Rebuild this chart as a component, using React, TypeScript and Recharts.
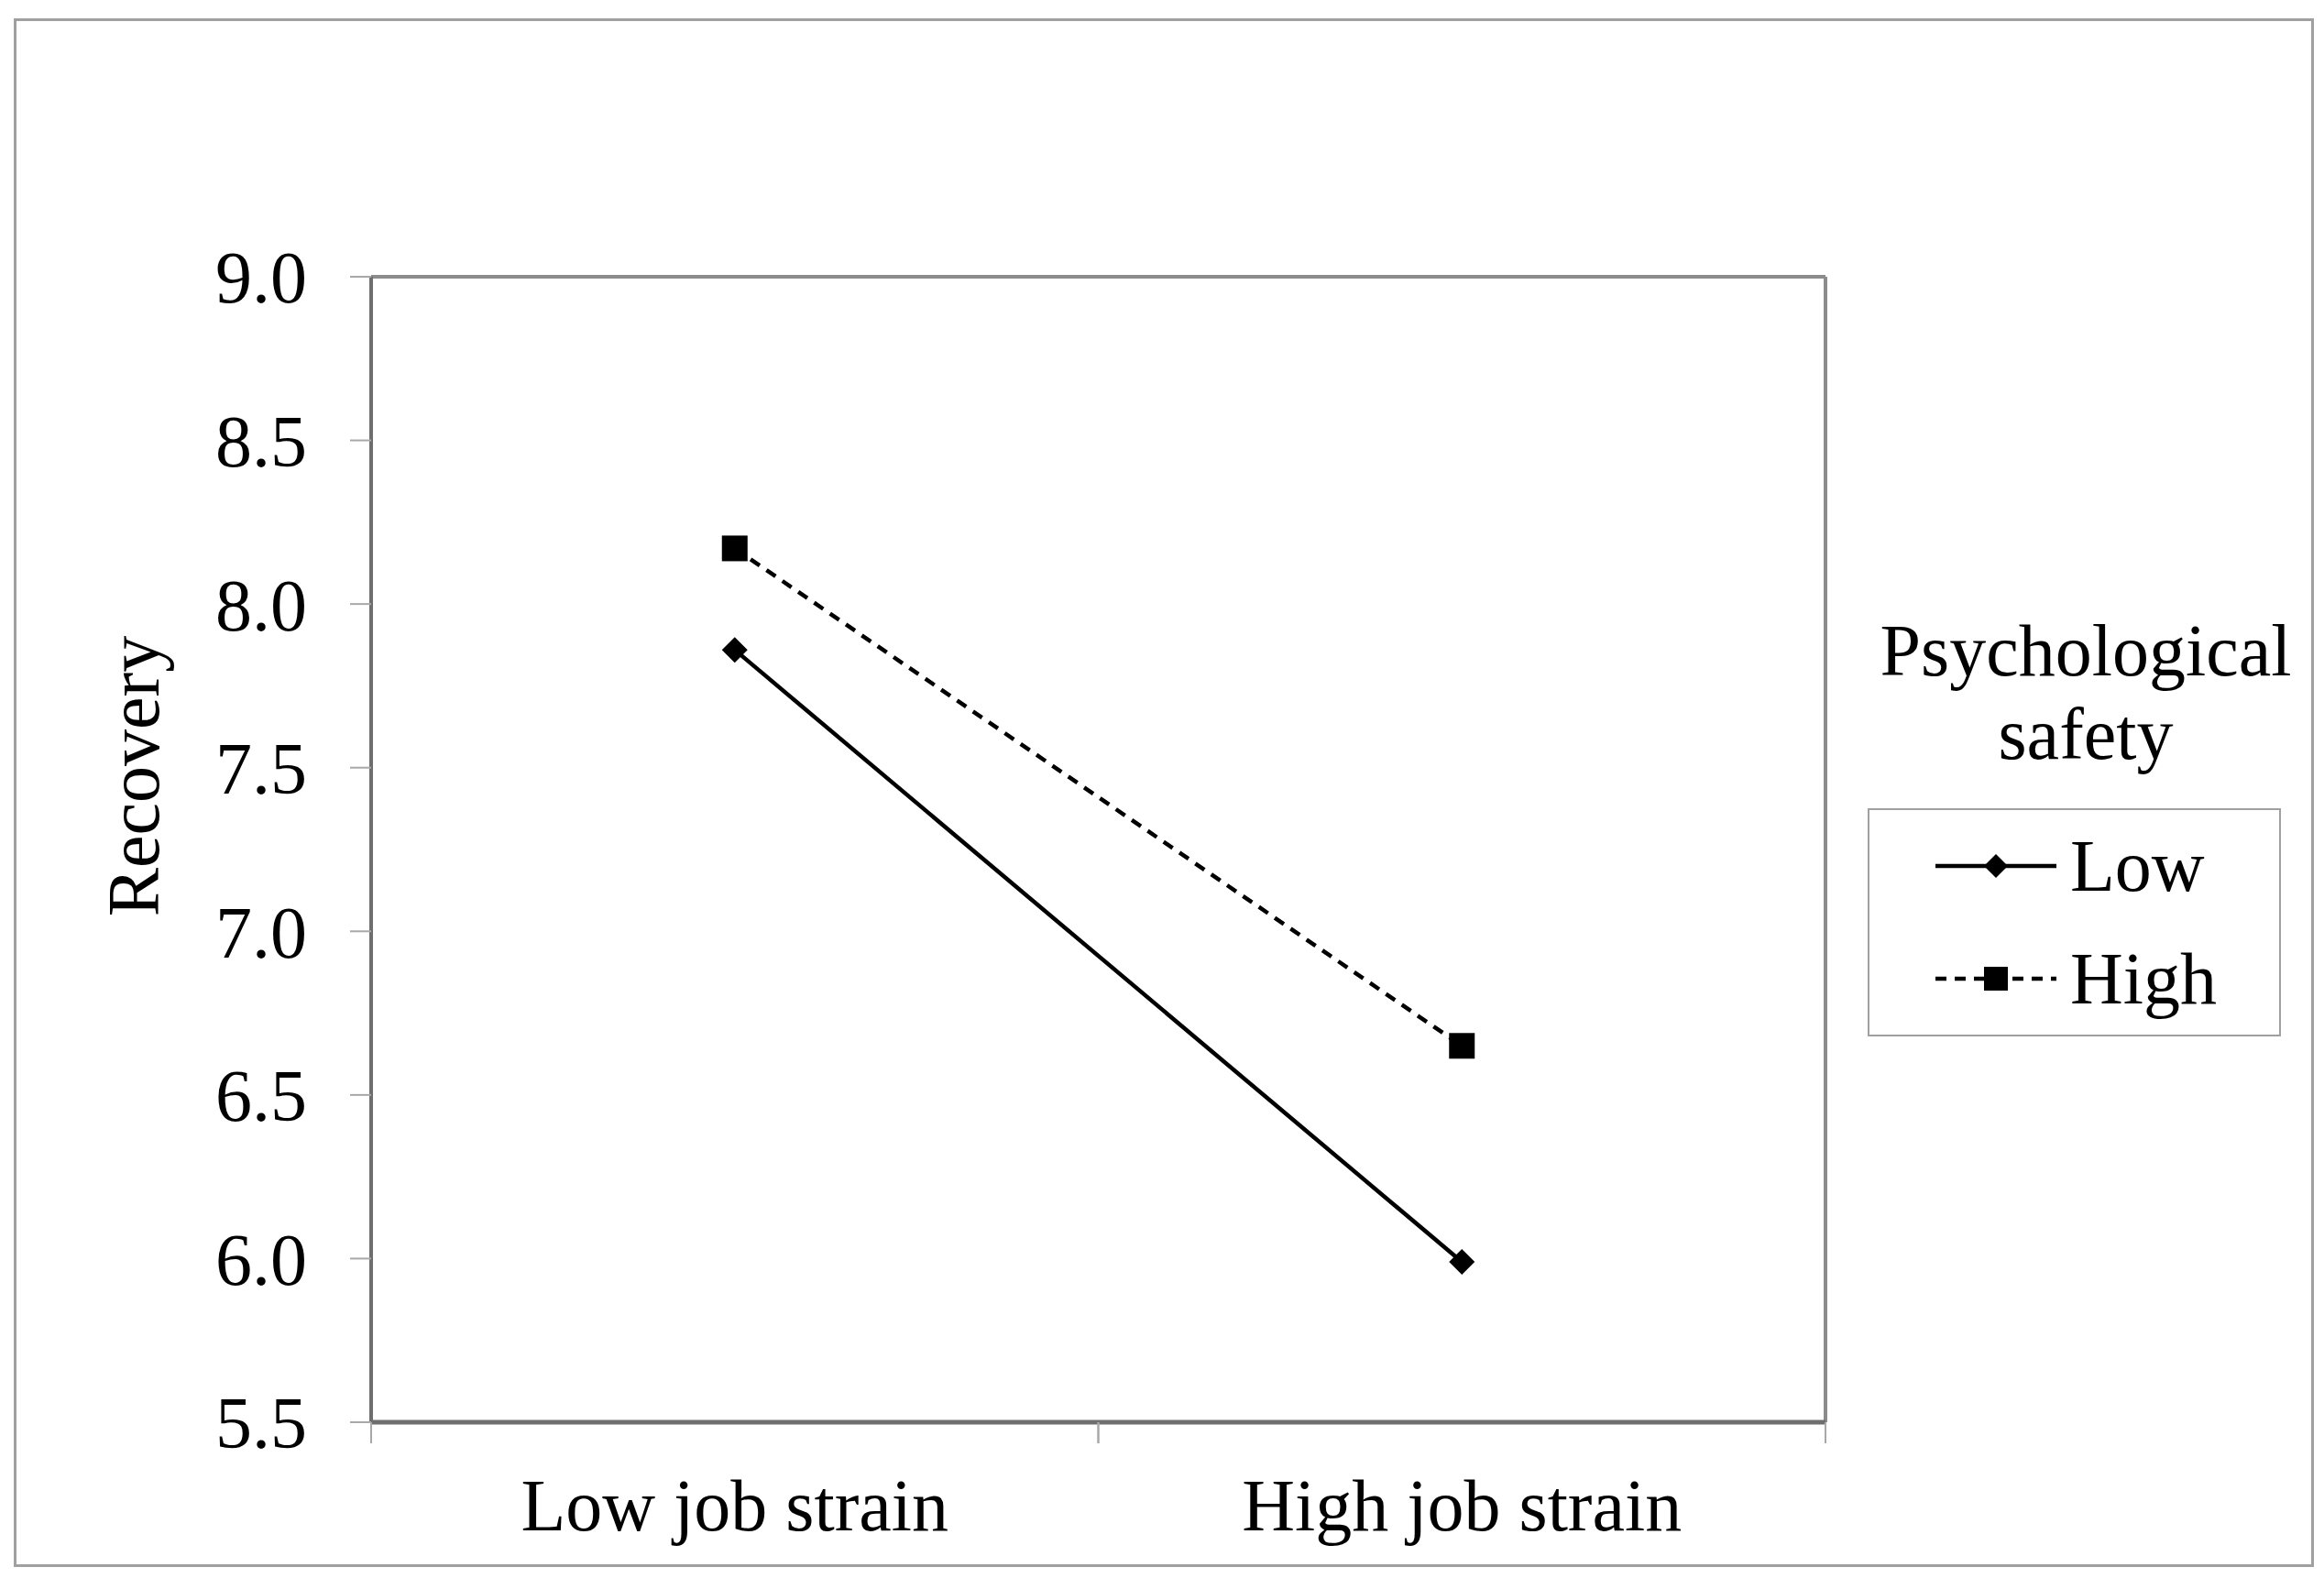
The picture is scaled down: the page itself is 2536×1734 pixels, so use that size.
import React from 'react';
import { LineChart, Line, XAxis, YAxis, CartesianGrid, Legend, Label } from 'recharts';

const categories = ['Low job strain', 'High job strain'];
const lowSafety = [7.86, 5.99];
const highSafety = [8.17, 6.65];
const yTicks = [5.5, 6.0, 6.5, 7.0, 7.5, 8.0, 8.5, 9.0];
const seriesNames = ['Low', 'High'];
const legendTitle = ['Psychological', 'safety'];
const yLabel = 'Recovery';

const data = categories.map((c, i) => ({ category: c, low: lowSafety[i], high: highSafety[i] }));

const W = 2536;
const H = 1734;
const PLOT_L = 405;
const PLOT_R = 1992;
const PLOT_T = 302;
const PLOT_B = 1552;
const PLOT_W = PLOT_R - PLOT_L;
const FONT = '"Liberation Serif", "Times New Roman", serif';
const FS = 80;
const DASH = '12 9';
const TICK_GREY = '#a8a8a8';

const Diamond = ({ cx, cy, size = 14 }: any) => (
  <path d={`M${cx},${cy - size} L${cx + size},${cy} L${cx},${cy + size} L${cx - size},${cy} Z`} fill="#000" />
);

const Square = ({ cx, cy, size = 14 }: any) => (
  <rect x={cx - size} y={cy - size} width={size * 2} height={size * 2} fill="#000" />
);

const renderDiamond = (p: any) => <Diamond key={`d-${p.index}`} cx={p.cx} cy={p.cy} />;
const renderSquare = (p: any) => <Square key={`s-${p.index}`} cx={p.cx} cy={p.cy} />;

// category label in the middle of its band, tick marks on the band edges
const CatTick = ({ x, y, payload }: any) => {
  const half = PLOT_W / 4;
  return (
    <g>
      <line x1={x - half} x2={x - half} y1={y} y2={y + 23} stroke={TICK_GREY} strokeWidth={2} />
      <line x1={x + half} x2={x + half} y1={y} y2={y + 23} stroke={TICK_GREY} strokeWidth={2} />
      <text x={x} y={y + 118} textAnchor="middle" fontSize={FS} fontFamily={FONT} fill="#000">{payload.value}</text>
    </g>
  );
};

const YTitle = () => (
  <text x={173} y={847} transform="rotate(-90 173 847)" textAnchor="middle"
    fontSize={FS} fontFamily={FONT} fill="#000">{yLabel}</text>
);

const LegendBox = () => {
  const boxX = 54, boxY = 228;
  return (
    <svg width={540} height={520} style={{ display: 'block', overflow: 'visible' }}>
      <text x={291} y={82} textAnchor="middle" fontSize={FS} fontFamily={FONT} fill="#000">{legendTitle[0]}</text>
      <text x={291} y={173} textAnchor="middle" fontSize={FS} fontFamily={FONT} fill="#000">{legendTitle[1]}</text>
      <rect x={boxX} y={boxY} width={449} height={247} fill="none" stroke="#a0a0a0" strokeWidth={2} />
      {seriesNames.map((name, i) => {
        const cy = boxY + 62 + i * 123;
        return (
          <g key={name}>
            <line x1={boxX + 73} x2={boxX + 205} y1={cy} y2={cy} stroke="#000" strokeWidth={4.5}
              strokeDasharray={i === 1 ? DASH : undefined} />
            {i === 0 ? <Diamond cx={boxX + 139} cy={cy} size={13} /> : <Square cx={boxX + 139} cy={cy} size={13} />}
            <text x={boxX + 220} y={cy + 27} fontSize={FS} fontFamily={FONT} fill="#000">{name}</text>
          </g>
        );
      })}
    </svg>
  );
};

export default function App() {
  return (
    <div style={{ position: 'absolute', left: 0, top: 0, width: W, height: H, background: '#fff' }}>
      <div style={{ position: 'absolute', left: 15, top: 20, width: 2510, height: 1690, border: '3px solid #a0a0a0', boxSizing: 'border-box' }} />
      <div style={{ position: 'absolute', left: 0, top: 0 }}>
        <LineChart width={W} height={H} data={data}
          margin={{ top: PLOT_T, right: W - PLOT_R, bottom: H - PLOT_B - 120, left: 0 }}>
          <CartesianGrid horizontalPoints={[PLOT_T]} verticalPoints={[PLOT_R]} stroke="#8c8c8c" strokeWidth={4} />
          <XAxis dataKey="category" height={120} padding={{ left: PLOT_W / 4, right: PLOT_W / 4 }}
            tickLine={false} tickSize={0} tickMargin={0} interval={0}
            axisLine={{ stroke: '#6e6e6e', strokeWidth: 5 }} tick={<CatTick />} />
          <YAxis type="number" domain={[5.5, 9]} ticks={yTicks} width={PLOT_L} tickSize={23} tickMargin={47}
            tickFormatter={(v: number) => v.toFixed(1)} axisLine={{ stroke: '#6e6e6e', strokeWidth: 4 }}
            tickLine={{ stroke: TICK_GREY, strokeWidth: 2 }} tick={{ fill: '#000', fontSize: FS, fontFamily: FONT }}>
            <Label content={<YTitle />} />
          </YAxis>
          <Line dataKey="low" name={seriesNames[0]} stroke="#000" strokeWidth={4.5} dot={renderDiamond} isAnimationActive={false} />
          <Line dataKey="high" name={seriesNames[1]} stroke="#000" strokeWidth={4.5} strokeDasharray={DASH} dot={renderSquare} isAnimationActive={false} />
          <Legend layout="horizontal" align="center" verticalAlign="middle" content={<LegendBox />}
            wrapperStyle={{ left: 1985, top: 655, width: 540, height: 520 }} />
        </LineChart>
      </div>
    </div>
  );
}
